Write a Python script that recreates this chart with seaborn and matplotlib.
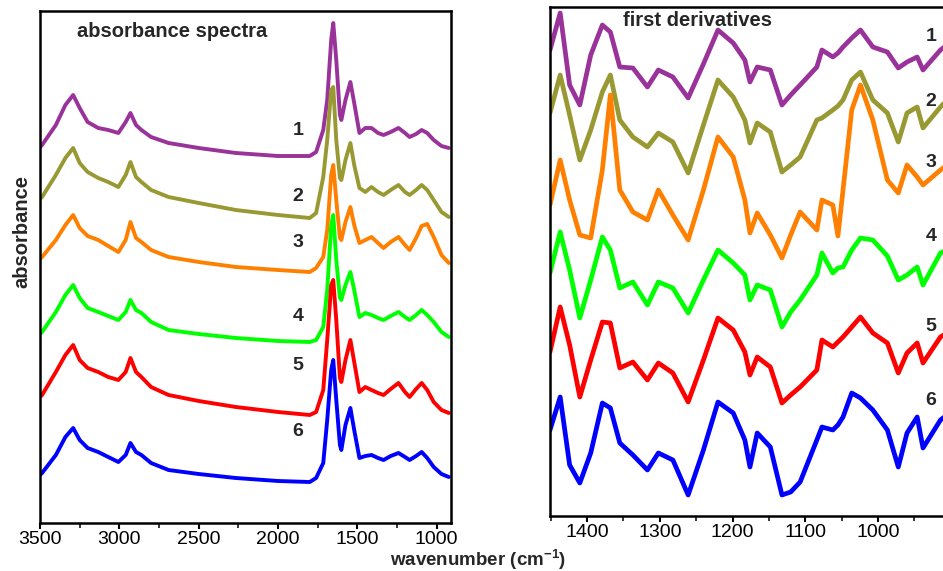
import numpy as np
import pandas as pd
import matplotlib
matplotlib.use("Agg")
import matplotlib.pyplot as plt
import seaborn as sns
from matplotlib.ticker import MultipleLocator, FixedLocator

sns.set_style("white")
plt.rcParams["font.family"] = ["Liberation Sans", "DejaVu Sans"]
plt.rcParams["mathtext.fontset"] = "custom"
plt.rcParams["mathtext.rm"] = "Liberation Sans"
plt.rcParams["mathtext.bf"] = "Liberation Sans:bold"

SAMPLES = ["1", "2", "3", "4", "5", "6"]
COLORS = ["#993399", "#999933", "#ff8000", "#00ff00", "#ff0000", "#0000ff"]

# ---------------- absorbance spectra (arbitrary, stacked) ----------------
W_ABS = [3500, 3487, 3400, 3340, 3291, 3250, 3200, 3133, 3070, 3006,
         2960, 2930, 2895, 2861, 2800, 2690, 2500, 2266, 2000, 1800,
         1760, 1715, 1690, 1665, 1652, 1633, 1610, 1601, 1575, 1544,
         1520, 1487, 1450, 1411, 1370, 1335, 1290, 1241, 1200, 1171,
         1130, 1095, 1060, 1019, 970, 924]
ABS_1 = [376, 378, 398, 418, 428, 415, 401, 395, 393, 390,
         401, 410, 398, 393, 386, 380, 375, 370, 367, 367,
         371, 393, 423, 483, 500, 463, 408, 403, 423, 441,
         420, 390, 395, 395, 390, 388, 391, 395, 390, 386,
         389, 393, 390, 383, 377, 375]
ABS_2 = [324, 326, 348, 365, 375, 360, 351, 345, 341, 336,
         348, 361, 346, 341, 333, 326, 320, 313, 308, 305,
         310, 346, 383, 433, 436, 383, 345, 343, 363, 380,
         358, 335, 331, 336, 331, 328, 333, 338, 331, 328,
         333, 338, 333, 323, 311, 306]
ABS_3 = [264, 266, 283, 298, 308, 295, 287, 283, 277, 271,
         283, 301, 285, 281, 273, 266, 261, 256, 253, 251,
         255, 266, 293, 348, 358, 323, 285, 283, 301, 316,
         298, 280, 283, 286, 280, 275, 281, 286, 278, 273,
         285, 297, 299, 286, 268, 260]
ABS_4 = [189, 191, 211, 228, 238, 225, 215, 211, 207, 203,
         211, 223, 213, 210, 201, 193, 189, 185, 182, 181,
         183, 196, 233, 298, 308, 263, 225, 223, 238, 251,
         233, 206, 210, 208, 205, 203, 207, 211, 206, 203,
         208, 213, 208, 201, 191, 186]
ABS_5 = [126, 128, 151, 168, 178, 163, 155, 151, 146, 143,
         151, 165, 151, 146, 136, 128, 122, 116, 111, 108,
         111, 133, 183, 238, 243, 203, 145, 141, 163, 183,
         161, 131, 136, 133, 130, 128, 134, 140, 131, 126,
         134, 140, 133, 121, 113, 110]
ABS_6 = [48, 50, 68, 86, 95, 83, 75, 71, 66, 61,
         68, 80, 71, 68, 60, 53, 49, 45, 42, 41,
         45, 60, 103, 153, 163, 123, 78, 73, 98, 115,
         93, 65, 67, 68, 65, 63, 67, 70, 66, 63,
         67, 71, 65, 56, 49, 46]

# ---------------- first derivatives (arbitrary, stacked) ----------------
W_DER = [1451, 1437, 1424, 1410, 1395, 1379, 1368, 1355, 1337, 1317,
         1302, 1282, 1261, 1240, 1220, 1199, 1183, 1176, 1166, 1148,
         1132, 1120, 1107, 1084, 1077, 1062, 1055, 1048, 1036, 1024,
         1007, 987, 972, 960, 946, 938, 914, 905]
DER_1 = [466, 503, 431, 411, 461, 491, 484, 449, 448, 429,
         446, 439, 418, 452, 486, 473, 456, 434, 449, 446,
         411, 421, 431, 449, 466, 459, 463, 469, 478, 486,
         469, 464, 448, 454, 459, 446, 466, 471]
DER_2 = [403, 441, 401, 356, 386, 424, 441, 396, 379, 369,
         383, 374, 343, 391, 436, 419, 396, 373, 393, 384,
         344, 351, 359, 396, 398, 406, 410, 416, 436, 444,
         416, 403, 374, 403, 409, 388, 409, 416]
DER_3 = [311, 356, 316, 281, 278, 346, 421, 326, 304, 296,
         326, 301, 276, 326, 379, 359, 316, 283, 303, 281,
         258, 281, 304, 286, 316, 311, 280, 326, 406, 431,
         396, 336, 323, 351, 339, 331, 346, 351]
DER_4 = [243, 284, 246, 198, 236, 279, 266, 228, 234, 211,
         234, 228, 203, 236, 266, 253, 241, 216, 231, 226,
         189, 204, 216, 241, 263, 243, 248, 249, 266, 278,
         276, 260, 236, 241, 249, 231, 263, 266]
DER_5 = [164, 209, 171, 119, 156, 194, 193, 148, 154, 136,
         153, 143, 114, 156, 198, 186, 164, 141, 159, 149,
         113, 121, 129, 146, 176, 169, 174, 179, 189, 199,
         183, 173, 143, 163, 173, 153, 179, 183]
DER_6 = [86, 119, 51, 33, 63, 113, 108, 73, 61, 46,
         63, 56, 21, 66, 114, 103, 76, 49, 83, 69,
         21, 24, 34, 76, 89, 86, 91, 99, 123, 118,
         106, 86, 49, 83, 99, 68, 96, 101]

ABS_TICKS = [3500, 3000, 2500, 2000, 1500, 1000]
DER_TICKS = [1400, 1300, 1200, 1100, 1000]

abs_series = [ABS_1, ABS_2, ABS_3, ABS_4, ABS_5, ABS_6]
der_series = [DER_1, DER_2, DER_3, DER_4, DER_5, DER_6]

df_abs = pd.DataFrame({
    "wavenumber": np.tile(W_ABS, len(SAMPLES)),
    "absorbance": np.concatenate(abs_series),
    "sample": np.repeat(SAMPLES, len(W_ABS)),
})
df_der = pd.DataFrame({
    "wavenumber": np.tile(W_DER, len(SAMPLES)),
    "derivative": np.concatenate(der_series),
    "sample": np.repeat(SAMPLES, len(W_DER)),
})
palette = dict(zip(SAMPLES, COLORS))

W, H = 943, 571
fig = plt.figure(figsize=(W / 100, H / 100), dpi=100)

def px_axes(l, t, r, b):
    return fig.add_axes([l / W, (H - b) / H, (r - l) / W, (b - t) / H])

ax1 = px_axes(40, 11, 451, 523)
ax2 = px_axes(550, 7, 947, 516)

sns.lineplot(data=df_abs, x="wavenumber", y="absorbance", hue="sample",
             palette=palette, estimator=None, legend=False, linewidth=2.8, ax=ax1)
sns.lineplot(data=df_der, x="wavenumber", y="derivative", hue="sample",
             palette=palette, estimator=None, legend=False, linewidth=3.4, ax=ax2)

ax1.set_xlim(3500, 910)
ax1.set_ylim(0, 512)
ax2.set_xlim(1451, 905)
ax2.set_ylim(0, 509)

for ax in (ax1, ax2):
    ax.set_xlabel("")
    ax.set_ylabel("")
    ax.set_yticks([])
    for s in ax.spines.values():
        s.set_linewidth(1.8)
        s.set_color("black")
    ax.tick_params(axis="x", which="major", direction="out", length=4, width=1.5,
                   labelsize=14, pad=1.5, colors="black", bottom=True)
    ax.tick_params(axis="x", which="minor", direction="out", length=3.5, width=1.3,
                   bottom=True)

ax1.xaxis.set_major_locator(FixedLocator(ABS_TICKS))
ax1.xaxis.set_minor_locator(MultipleLocator(250))
ax2.xaxis.set_major_locator(FixedLocator(DER_TICKS))
ax2.xaxis.set_minor_locator(MultipleLocator(50))

# curve numbers
left_pos = [0.766, 0.637, 0.547, 0.404, 0.307, 0.178]
right_pos = [0.943, 0.815, 0.695, 0.550, 0.373, 0.226]
for s, y in zip(SAMPLES, left_pos):
    ax1.text(0.628, y, s, transform=ax1.transAxes, ha="center", va="center",
             fontsize=14, fontweight="bold")
for s, y in zip(SAMPLES, right_pos):
    ax2.text(0.960, y, s, transform=ax2.transAxes, ha="center", va="center",
             fontsize=14, fontweight="bold")

ax1.text(0.09, 0.959, "absorbance spectra", transform=ax1.transAxes,
         ha="left", va="center", fontsize=14.5, fontweight="bold")
ax2.text(0.184, 0.974, "first derivatives", transform=ax2.transAxes,
         ha="left", va="center", fontsize=14.5, fontweight="bold")

fig.text(478 / W, (H - 560) / H, r"wavenumber (cm$^{\mathbf{-1}}$)",
         ha="center", va="center", fontsize=13.5, fontweight="bold")
fig.text(22 / W, (H - 232) / H, "absorbance", rotation=90,
         ha="center", va="center", fontsize=14.5, fontweight="bold")

fig.savefig("out.png", dpi=100)
